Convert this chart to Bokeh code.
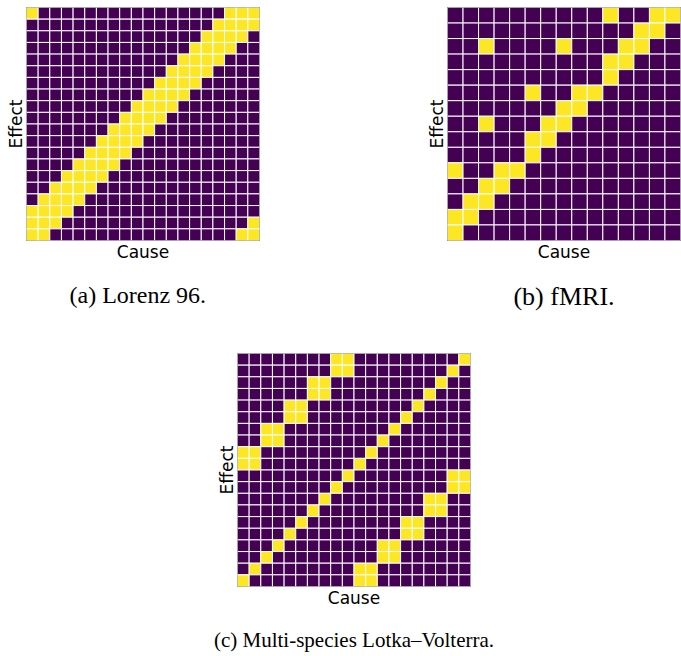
from bokeh.plotting import figure
from bokeh.layouts import column, row
from bokeh.models import Spacer, Title, Range1d, FixedTicker, ColumnDataSource
from bokeh.transform import linear_cmap
from bokeh.palettes import Viridis256
from bokeh.embed import file_html
from bokeh.resources import INLINE

# Causal adjacency matrices: for each effect row (listed top to bottom),
# the cause columns that are active.
lorenz96_active = [
    [0, 17, 18, 19], [16, 17, 18, 19], [15, 16, 17, 18], [14, 15, 16, 17],
    [13, 14, 15, 16], [12, 13, 14, 15], [11, 12, 13, 14], [10, 11, 12, 13],
    [9, 10, 11, 12], [8, 9, 10, 11], [7, 8, 9, 10], [6, 7, 8, 9],
    [5, 6, 7, 8], [4, 5, 6, 7], [3, 4, 5, 6], [2, 3, 4, 5],
    [1, 2, 3, 4], [0, 1, 2, 3], [0, 1, 2, 19], [0, 1, 18, 19],
]

fmri_active = [
    [10, 13, 14], [12, 13], [2, 7, 11, 12], [10, 11], [10],
    [5, 8, 9], [7, 8], [2, 6, 7], [5, 6], [5],
    [0, 3, 4], [2, 3], [1, 2], [0, 1], [0],
]

lotka_volterra_active = [
    [8, 9, 19], [8, 9, 18], [6, 7, 17], [6, 7, 16], [4, 5, 15],
    [4, 5, 14], [2, 3, 13], [2, 3, 12], [0, 1, 11], [0, 1, 10],
    [9, 18, 19], [8, 18, 19], [7, 16, 17], [6, 16, 17], [5, 14, 15],
    [4, 14, 15], [3, 12, 13], [2, 12, 13], [1, 10, 11], [0, 10, 11],
]

captions = ["(a) Lorenz 96.", "(b) fMRI.", "(c) Multi-species Lotka\u2013Volterra."]

FRAME = 233


def matrix_source(active):
    n = len(active)
    xs, ys, vals = [], [], []
    for i, cols in enumerate(active):
        for j in range(n):
            xs.append(j + 0.5)
            ys.append(n - 1 - i + 0.5)
            vals.append(1 if j in cols else 0)
    return ColumnDataSource(dict(x=xs, y=ys, v=vals)), n


def panel(active, caption, left, right, top, bottom, cap_size, cap_standoff,
          cap_align="center", cap_offset=0):
    src, n = matrix_source(active)
    p = figure(frame_width=FRAME, frame_height=FRAME,
               x_range=Range1d(0, n), y_range=Range1d(0, n),
               output_backend="svg", toolbar_location=None, tools="",
               min_border_left=left, min_border_right=right,
               min_border_top=top, min_border_bottom=bottom,
               background_fill_color="white", border_fill_color="white")
    p.rect(x="x", y="y", width=1, height=1, source=src,
           fill_color=linear_cmap("v", Viridis256, 0, 1),
           line_color="white", line_width=1)
    p.grid.visible = False
    p.outline_line_color = "#555555"
    p.outline_line_width = 1
    for ax, lab in ((p.xaxis[0], "Cause"), (p.yaxis[0], "Effect")):
        ax.ticker = FixedTicker(ticks=[])
        ax.axis_line_color = None
        ax.major_tick_line_color = None
        ax.minor_tick_line_color = None
        ax.major_label_text_font_size = "0px"
        ax.axis_label = lab
        ax.axis_label_text_font = "DejaVu Sans"
        ax.axis_label_text_font_size = "17px"
        ax.axis_label_text_font_style = "normal"
        ax.axis_label_text_color = "black"
        ax.axis_label_standoff = 1
    p.add_layout(Title(text=caption, align=cap_align, offset=cap_offset,
                       text_font="Liberation Serif",
                       text_font_size=cap_size, text_font_style="normal",
                       text_color="black", standoff=cap_standoff), "below")
    return p


pa = panel(lorenz96_active, captions[0], 26, 161, 7, 90, "24px", 30, "left", 43)
pb = panel(fmri_active, captions[1], 27, 1, 7, 90, "26px", 30)
pc = panel(lotka_volterra_active, captions[2], 87, 211, 23, 70, "21px", 30)

layout = column(row(pa, pb), row(Spacer(width=150, height=326), pc))

open("out.html", "w").write(file_html(layout, INLINE))
